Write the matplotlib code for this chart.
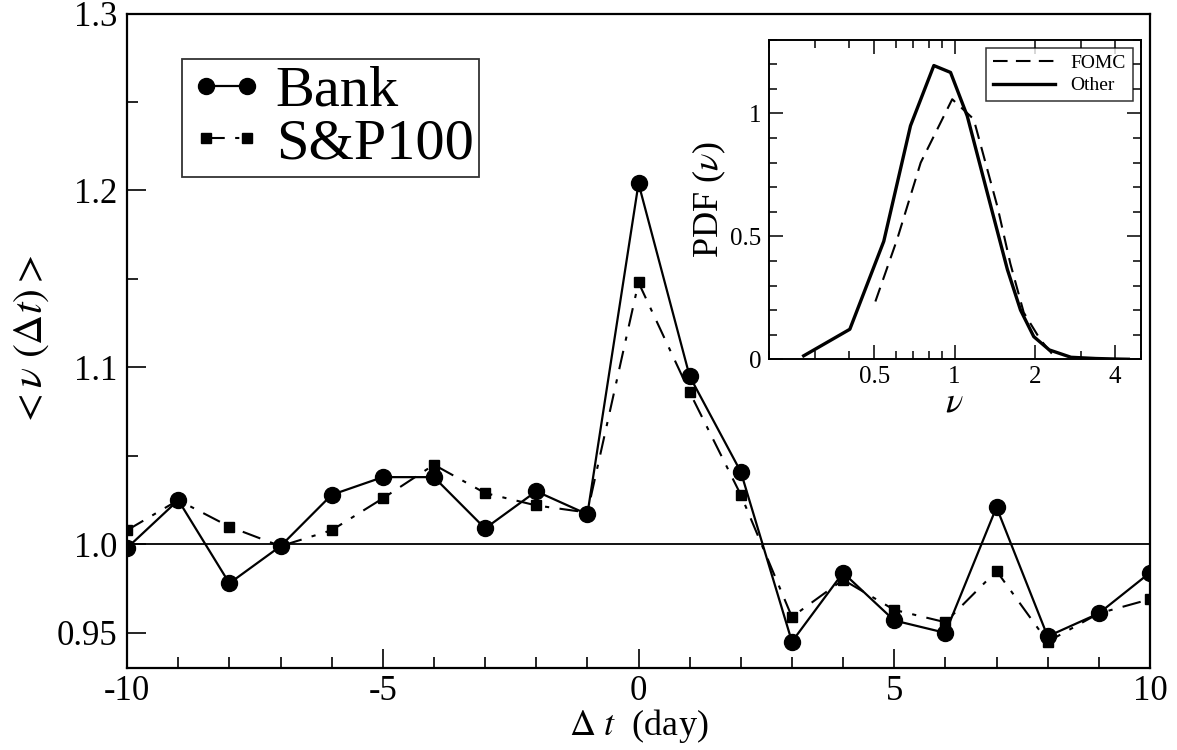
import numpy as np
import matplotlib
matplotlib.use("Agg")
import matplotlib.pyplot as plt
from matplotlib.ticker import FixedLocator, FixedFormatter, NullFormatter, LogLocator

plt.rcParams['font.family'] = ['Liberation Serif', 'DejaVu Serif']
plt.rcParams['mathtext.fontset'] = 'stix'
plt.rcParams['axes.unicode_minus'] = False

# main panel data
days = list(range(-10, 11))
bank = [0.998, 1.025, 0.978, 0.999, 1.028, 1.038, 1.038, 1.009, 1.030, 1.017,
        1.204, 1.095, 1.041, 0.945, 0.984, 0.957, 0.950, 1.021, 0.948, 0.961, 0.984]
sp100 = [1.008, 1.025, 1.010, 0.999, 1.008, 1.026, 1.045, 1.029, 1.022, 1.018,
         1.148, 1.086, 1.028, 0.959, 0.980, 0.963, 0.956, 0.985, 0.945, 0.961, 0.969]

# inset data (PDF of nu)
other_nu = [0.271, 0.404, 0.542, 0.683, 0.836, 0.966, 1.116, 1.327, 1.58, 1.77,
            1.985, 2.27, 2.74, 3.4, 4.0, 4.5]
other_pdf = [0.014, 0.122, 0.48, 0.95, 1.195, 1.167, 0.99, 0.678, 0.365, 0.20,
             0.092, 0.038, 0.008, 0.003, 0.001, 0.0]
fomc_nu = [0.504, 0.608, 0.746, 0.98, 1.18, 1.45, 1.62, 1.82, 2.1, 2.40]
fomc_pdf = [0.235, 0.487, 0.80, 1.058, 0.977, 0.62, 0.39, 0.19, 0.08, 0.004]

fig = plt.figure(figsize=(11.77, 7.5), dpi=100)
ax = fig.add_axes([0.108, 0.109, 0.869, 0.873])

ax.axhline(1.0, color='black', lw=1.3, zorder=1)
ax.plot(days, bank, '-', color='black', lw=1.6, marker='o', ms=11.5,
        label='Bank', zorder=3)
ax.plot(days, sp100, color='black', lw=1.5, linestyle=(0, (9, 5, 2, 5)),
        marker='s', ms=7.5, label='S&P100', zorder=2)

ax.set_xlim(-10, 10)
ax.set_ylim(0.93, 1.3)
ax.xaxis.set_major_locator(FixedLocator([-10, -5, 0, 5, 10]))
ax.xaxis.set_minor_locator(FixedLocator(range(-10, 11)))
ax.yaxis.set_major_locator(FixedLocator([0.95, 1.0, 1.1, 1.2, 1.3]))
ax.yaxis.set_major_formatter(FixedFormatter(['0.95', '1.0', '1.1', '1.2', '1.3']))
ax.yaxis.set_minor_locator(FixedLocator([1.05, 1.15, 1.25]))
ax.tick_params(which='both', direction='in', labelsize=25, width=1.2)
ax.tick_params(which='major', length=14, pad=7)
ax.tick_params(axis='x', which='major', pad=5)
ax.tick_params(which='minor', length=8)
for s in ax.spines.values():
    s.set_linewidth(1.6)

ax.set_xlabel(r'$\Delta\ t$  (day)', fontsize=26, labelpad=-1)
ax.set_ylabel(r'$<\nu\ (\Delta t)>$', fontsize=30, labelpad=4)

leg = ax.legend(loc='upper left', bbox_to_anchor=(0.054, 0.93), fontsize=42,
                frameon=True, fancybox=False, edgecolor='black', numpoints=2,
                handlelength=1.3, handletextpad=0.2, borderpad=0.1,
                labelspacing=0.0, borderaxespad=0)
leg.get_frame().set_linewidth(1.3)

# inset
ins = fig.add_axes([0.653, 0.521, 0.316, 0.426])
ins.plot(fomc_nu, fomc_pdf, color='black', lw=1.5, linestyle=(0, (7, 4)), label='FOMC')
ins.plot(other_nu, other_pdf, color='black', lw=2.4, label='Other')
ins.set_xscale('log')
ins.set_xlim(0.2, 5.0)
ins.set_ylim(0, 1.3)
ins.xaxis.set_major_locator(FixedLocator([0.5, 1, 2, 4]))
ins.xaxis.set_major_formatter(FixedFormatter(['0.5', '1', '2', '4']))
ins.xaxis.set_minor_locator(LogLocator(base=10, subs=np.arange(2, 10)))
ins.xaxis.set_minor_formatter(NullFormatter())
ins.yaxis.set_major_locator(FixedLocator([0, 0.5, 1]))
ins.yaxis.set_major_formatter(FixedFormatter(['0', '0.5', '1']))
ins.yaxis.set_minor_locator(FixedLocator(np.arange(0, 1.31, 0.1)))
ins.tick_params(which='both', direction='in', top=True, right=True,
                labelsize=18, width=1.1)
ins.tick_params(which='major', length=10, pad=5)
ins.tick_params(which='minor', length=6)
for s in ins.spines.values():
    s.set_linewidth(1.4)
ins.set_xlabel(r'$\nu$', fontsize=26, labelpad=-1)
ins.set_ylabel(r'PDF ($\nu$)', fontsize=26, labelpad=2)
il = ins.legend(loc='upper right', fontsize=14, frameon=True, fancybox=False,
                edgecolor='black', handlelength=3.2, borderaxespad=0.4,
                borderpad=0.35, labelspacing=0.25)
il.get_frame().set_linewidth(1.1)

fig.savefig('out.png', dpi=100)
